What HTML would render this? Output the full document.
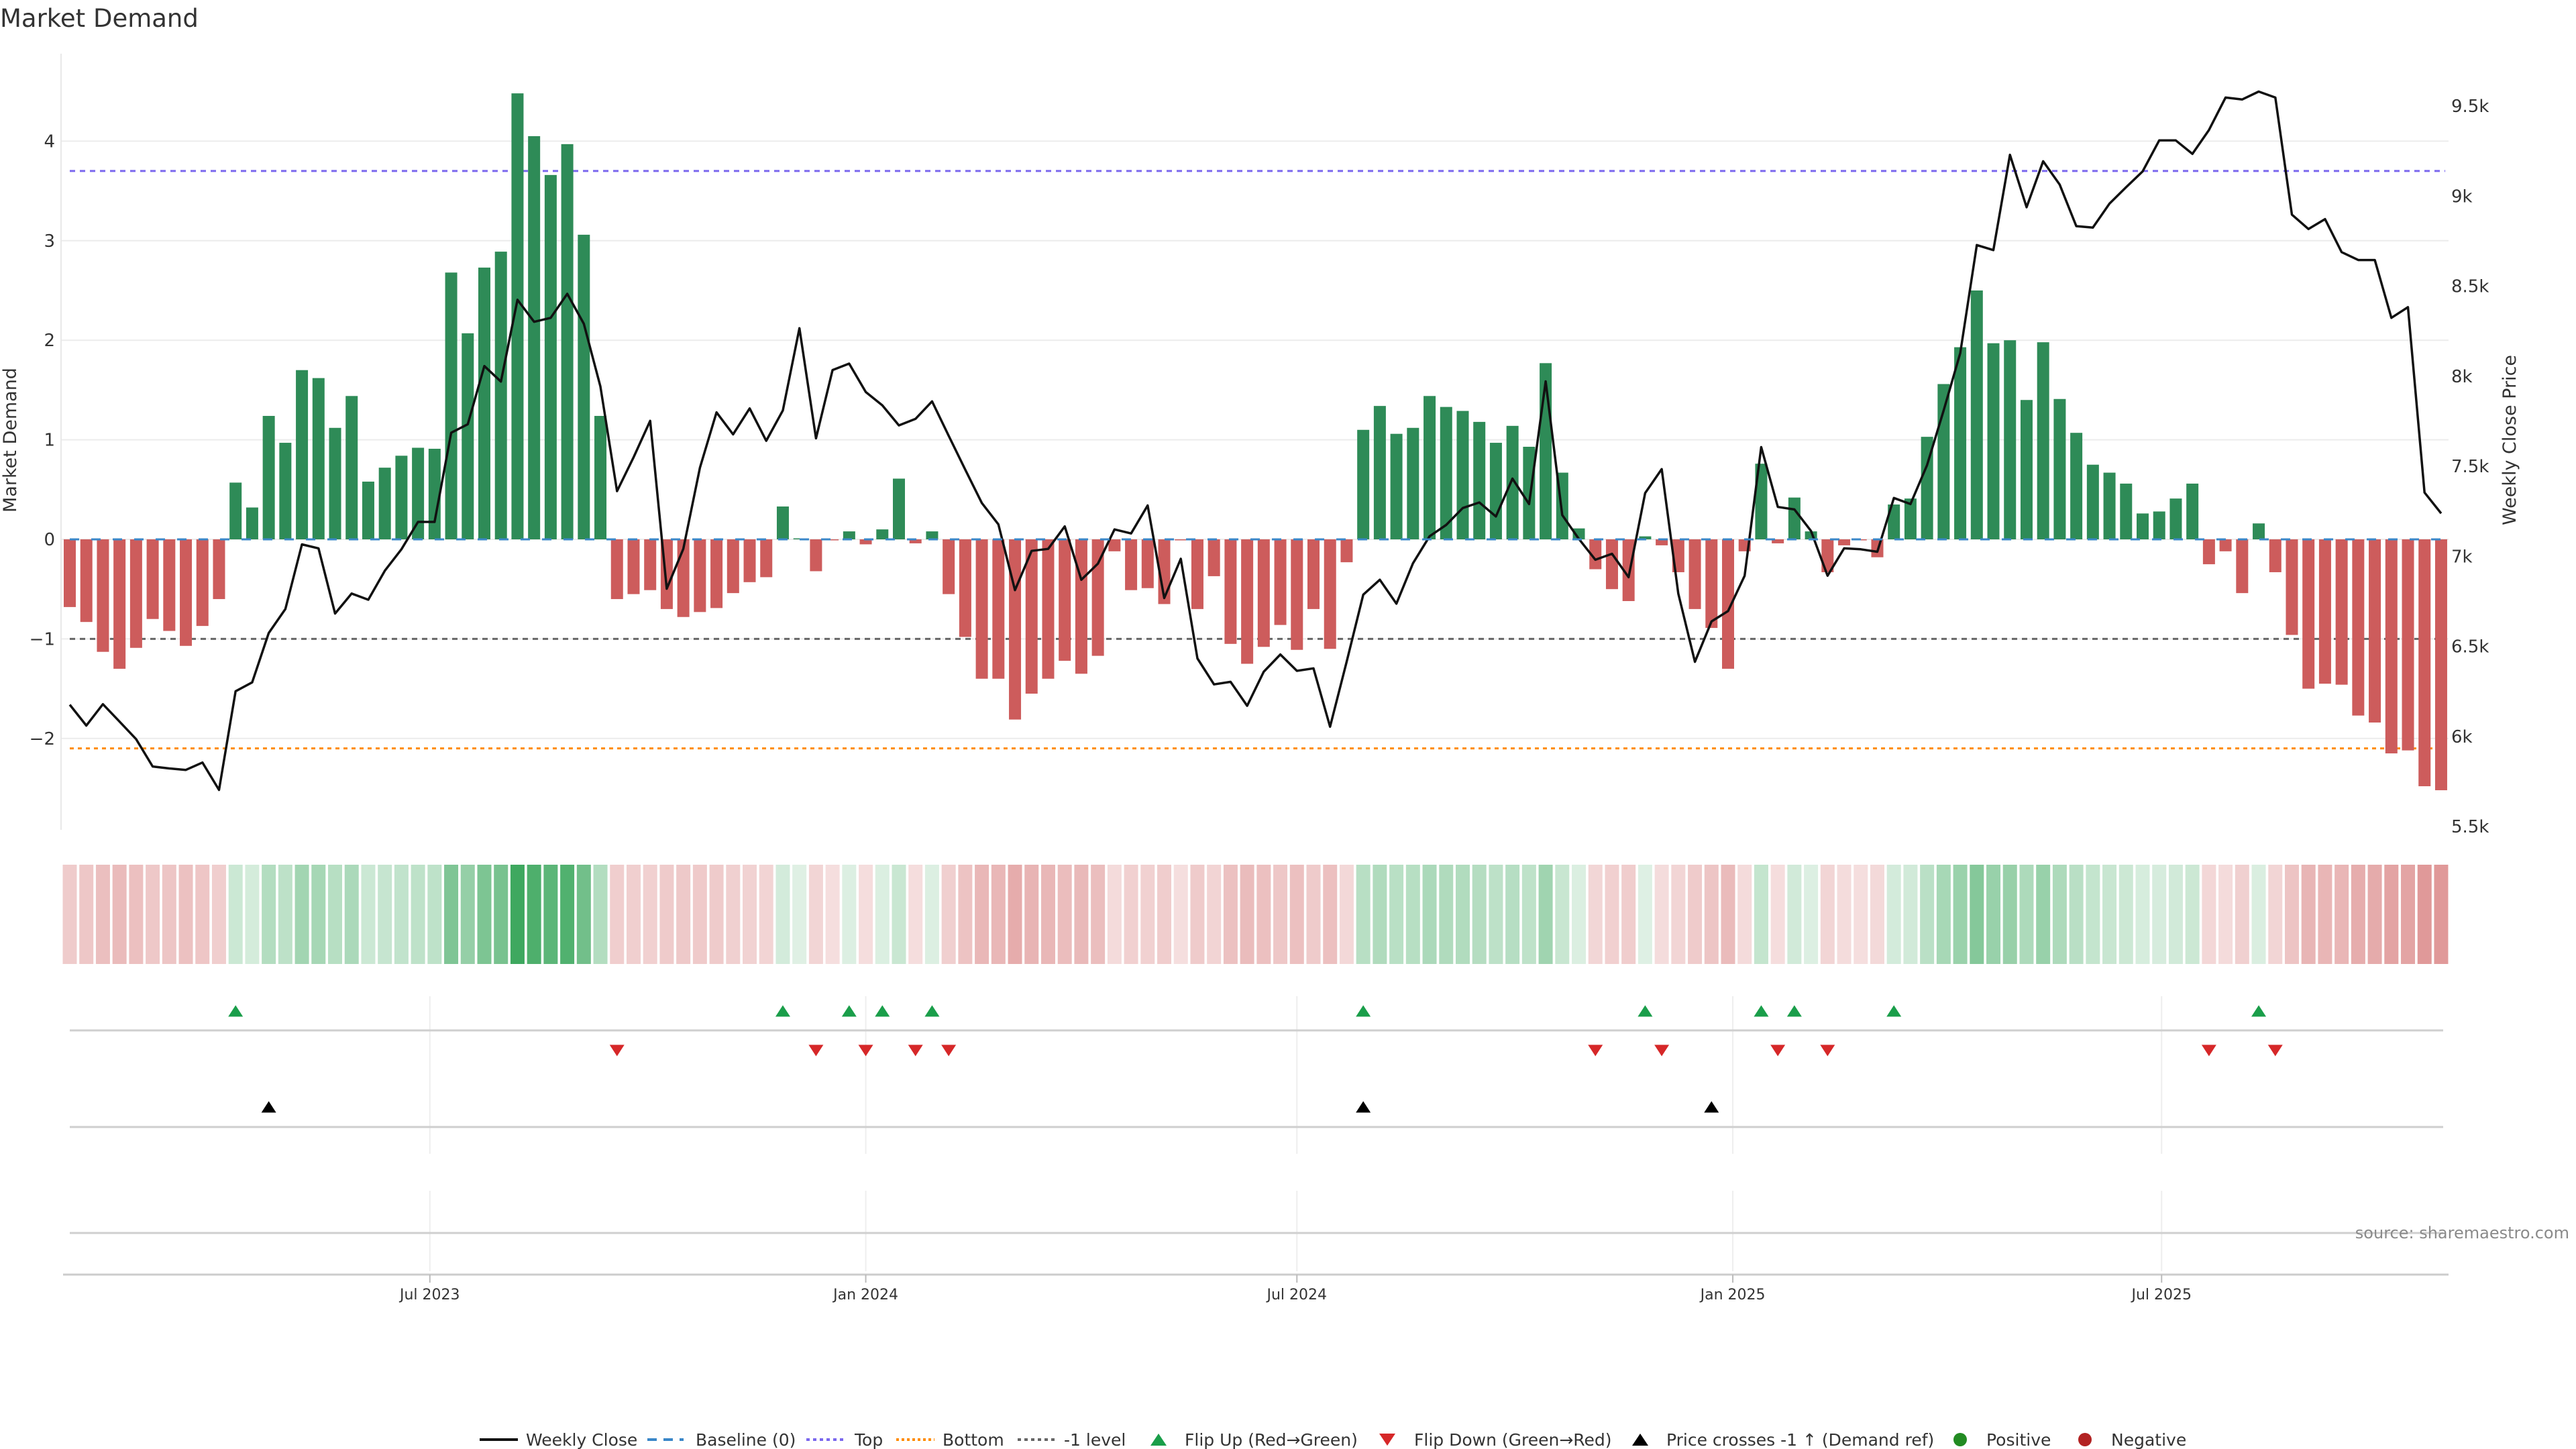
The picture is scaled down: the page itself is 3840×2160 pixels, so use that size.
<!DOCTYPE html>
<html><head><meta charset="utf-8"><style>
html,body{margin:0;padding:0;background:#fff;}
svg{display:block;font-family:"DejaVu Sans","Liberation Sans",sans-serif;}
</style></head><body>
<svg id="chart" width="3840" height="2160" viewBox="0 0 3840 2160" xmlns="http://www.w3.org/2000/svg">
<text x="0" y="40" font-size="37" fill="#333">Market Demand</text>
<g id="grid"></g>
<g id="refs"></g>
<g id="bars"></g>
<g id="price"></g>
<g id="heat"></g>
<g id="markers"></g>
<g id="axes"></g>
<text transform="translate(24,656) rotate(-90)" text-anchor="middle" font-size="27" fill="#333">Market Demand</text>
<text transform="translate(3750,656) rotate(-90)" text-anchor="middle" font-size="27" fill="#333">Weekly Close Price</text>
<text x="3830" y="1846" text-anchor="end" font-size="24" fill="#8a8a8a">source: sharemaestro.com</text>
<g id="legend"></g>
</svg>
<script>
const demand = [-0.68,-0.83,-1.13,-1.30,-1.09,-0.80,-0.92,-1.07,-0.87,-0.60,
0.57,0.32,1.24,0.97,1.70,1.62,1.12,1.44,0.58,0.72,0.84,0.92,0.91,2.68,2.07,2.73,2.89,4.48,4.05,3.66,3.97,3.06,1.24,
-0.60,-0.55,-0.51,
-0.70,-0.78,-0.73,-0.69,-0.54,-0.43,-0.38,0.33,0.01,-0.32,-0.01,0.08,-0.05,0.10,0.61,-0.04,0.08,-0.55,-0.98,-1.40,-1.40,-1.81,-1.55,-1.40,-1.22,-1.35,-1.17,-0.12,-0.51,-0.49,-0.65,-0.01,-0.70,-0.37,-1.05,-1.25,-1.08,
-0.86,-1.11,-0.70,-1.10,-0.23,1.10,1.34,1.06,1.12,1.44,1.33,1.29,1.18,0.97,1.14,0.93,1.77,0.67,0.11,-0.30,-0.50,-0.62,0.03,-0.06,-0.33,-0.70,-0.89,-1.30,-0.12,0.76,-0.04,0.42,0.08,-0.33,-0.06,-0.01,
-0.18,0.35,0.41,1.03,1.56,1.93,2.50,1.97,2.00,1.40,1.98,1.41,1.07,0.75,0.67,0.56,0.26,0.28,0.41,0.56,-0.25,-0.12,-0.54,0.16,-0.33,-0.96,-1.50,-1.45,-1.46,-1.77,-1.84,-2.15,-2.12,-2.48,-2.52];
const closePrice = [6176,6060,6179,6082,5985,5833,5822,5814,5855,5703,6251,6300,6574,6707,7066,7044,6682,6793,6759,6920,7039,7191,7191,7686,7733,8056,7970,8424,8302,8324,8457,8291,7943,7362,7550,7752,6820,
7041,7492,7799,7677,7821,7641,7810,8266,7655,8034,8070,7912,7838,7727,7763,7860,7669,7481,7296,7177,6812,7030,7041,7166,6870,6959,7149,7127,7282,6768,6986,6433,6289,6303,6170,6359,
6455,6364,6378,6054,6414,6787,6870,6737,6961,7111,7174,7268,7299,7221,7431,7290,7971,7229,7097,6981,7014,6884,7351,7484,6793,6414,6638,6696,6892,7606,7274,7260,7141,6892,7044,7039,7025,
7324,7290,7506,7810,8128,8728,8700,9229,8938,9193,9063,8833,8825,8958,9049,9137,9309,9309,9234,9367,9547,9536,9580,9547,8897,8817,8872,8689,8645,8645,8324,8383,7354,7238];
const crossIdx = [12,78,99];
const leftTicks = [-2,-1,0,1,2,3,4];
const rightTicks = [5500,6000,6500,7000,7500,8000,8500,9000,9500];
const rightTickLabels = ["5.5k","6k","6.5k","7k","7.5k","8k","8.5k","9k","9.5k"];
const xTickDates = ["2023-07-01","2024-01-01","2024-07-01","2025-01-01","2025-07-01"];
const xTickLabels = ["Jul 2023","Jan 2024","Jul 2024","Jan 2025","Jul 2025"];
const refTop = 3.70, refBottom = -2.10, refMinus1 = -1.0;

const NS="http://www.w3.org/2000/svg";
const d0 = Date.UTC(2023,0,30);
const STEP = 24.72;
function xi(i){return 104 + i*STEP;}
function xDate(s){const p=s.split('-');return 104 + (Date.UTC(+p[0],+p[1]-1,+p[2])-d0)/(7*86400000)*STEP;}
function yL(v){return 804 - 148.4*v;}
function yR(p){return 1232 - (p-5500)*0.2685;}
function mk(tag,attrs,parent){const e=document.createElementNS(NS,tag);for(const k in attrs)e.setAttribute(k,attrs[k]);parent.appendChild(e);return e;}
const G=id=>document.getElementById(id);

const grid=G('grid');
leftTicks.forEach(t=>{
  const l=mk('line',{x1:91,x2:3650,y1:yL(t),y2:yL(t),stroke:'#ececec','stroke-width':2},grid);
  
  
});
xTickDates.forEach(d=>{
  const x=xDate(d);
  [[1485,1720],[1775,1895]].forEach(r=>{
    const l=mk('line',{x1:x,x2:x,y1:r[0],y2:r[1],stroke:'#eeeeee','stroke-width':2},grid);
    
    
  });
});
mk('line',{x1:91,x2:91,y1:80,y2:1237,stroke:'#e8e8e8','stroke-width':2},grid);

const refs=G('refs');
function ref(v,col,dash,name){
  const l=mk('line',{x1:104,x2:3645,y1:yL(v),y2:yL(v),stroke:col,'stroke-width':3,'stroke-dasharray':dash},refs);
  
  
}
ref(refTop,'#7b68ee','8 7','top-line');
ref(refBottom,'#ff8c00','6 6','bottom-line');
ref(refMinus1,'#666','8 7','minus-one-level-line');

const bars=G('bars');
demand.forEach((v,i)=>{
  const y0=yL(0), y1=yL(v);
  const r=mk('rect',{x:xi(i)-9,y:Math.min(y0,y1),width:18,height:Math.max(Math.abs(y1-y0),0.5),fill:v>0?'#2e8b57':'#cd5c5c'},bars);
  
  
});
const bl=mk('line',{x1:104,x2:3645,y1:yL(0),y2:yL(0),stroke:'#3a87c8','stroke-width':3,'stroke-dasharray':'14 18'},refs);


bars.parentNode.appendChild(refs.lastChild);

const pts=closePrice.map((p,i)=>xi(i).toFixed(1)+','+yR(p).toFixed(1)).join(' ');
const pl=mk('polyline',{points:pts,fill:'none',stroke:'#111','stroke-width':3.5,'stroke-linejoin':'round'},G('price'));



const heat=G('heat');
demand.forEach((v,i)=>{
  const a=v>0?Math.min(0.15+0.17*v,0.95):Math.min(0.2+0.17*Math.abs(v),0.75);
  const c=v>0?'rgba(44,160,80,'+a.toFixed(3)+')':'rgba(205,92,92,'+a.toFixed(3)+')';
  const r=mk('rect',{x:xi(i)-10.5,y:1289,width:21,height:148,fill:c},heat);
  
  
});

const mkG=G('markers');
[1536,1680,1838].forEach(y=>{
  const l=mk('line',{x1:104,x2:3642,y1:y,y2:y,stroke:'#cfcfcf','stroke-width':3},mkG);
  
  
});
function tri(x,y,up,col,name){
  const h=17,w=11;
  const p=up?`${x-w},${y+h/2} ${x+w},${y+h/2} ${x},${y-h/2}`:`${x-w},${y-h/2} ${x+w},${y-h/2} ${x},${y+h/2}`;
  const t=mk('polygon',{points:p,fill:col},mkG);
  
  
}
for(let i=1;i<demand.length;i++){
  if(demand[i]>0&&demand[i-1]<=0) tri(xi(i),1507,true,'#1a9e4a','flip-up-marker');
  if(demand[i]<=0&&demand[i-1]>0) tri(xi(i),1566,false,'#d62728','flip-down-marker');
}
crossIdx.forEach(i=>tri(xi(i),1650,true,'#000','price-cross-marker'));

const ax=G('axes');
mk('line',{x1:94,x2:3650,y1:1900,y2:1900,stroke:'#cccccc','stroke-width':3},ax);
leftTicks.forEach(t=>{
  const tx=mk('text',{x:82,y:yL(t)+9,'text-anchor':'end','font-size':26,fill:'#333'},ax);
  tx.textContent=t<0?'\u2212'+Math.abs(t):String(t);
  
  
});
rightTicks.forEach((p,k)=>{
  const tx=mk('text',{x:3654,y:yR(p)+9,'font-size':26,fill:'#333'},ax);
  tx.textContent=rightTickLabels[k];
  
  
});
xTickDates.forEach((d,k)=>{
  const x=xDate(d);
  mk('line',{x1:x,x2:x,y1:1900,y2:1912,stroke:'#bbb','stroke-width':2},ax);
  const tx=mk('text',{x:x,y:1937,'text-anchor':'middle','font-size':22,fill:'#333'},ax);
  tx.textContent=xTickLabels[k];
  
  
});

const lg=G('legend');
const ly=2146;
function ltext(x,s){const t=mk('text',{x:x,y:ly+9,'font-size':25,fill:'#333'},lg);t.textContent=s;}
mk('line',{x1:715,x2:772,y1:ly,y2:ly,stroke:'#111','stroke-width':4},lg); ltext(784,'Weekly Close');
mk('line',{x1:965,x2:1019,y1:ly,y2:ly,stroke:'#3a87c8','stroke-width':4,'stroke-dasharray':'14 10'},lg); ltext(1037,'Baseline (0)');
mk('line',{x1:1202,x2:1259,y1:ly,y2:ly,stroke:'#7b68ee','stroke-width':4,'stroke-dasharray':'5 5'},lg); ltext(1274,'Top');
mk('line',{x1:1336,x2:1393,y1:ly,y2:ly,stroke:'#ff8c00','stroke-width':4,'stroke-dasharray':'4 4'},lg); ltext(1405,'Bottom');
mk('line',{x1:1517,x2:1573,y1:ly,y2:ly,stroke:'#666','stroke-width':4,'stroke-dasharray':'5 5'},lg); ltext(1586,'-1 level');
function ltri(x,up,col){const h=18,w=12;const p=up?`${x-w},${ly+h/2} ${x+w},${ly+h/2} ${x},${ly-h/2}`:`${x-w},${ly-h/2} ${x+w},${ly-h/2} ${x},${ly+h/2}`;mk('polygon',{points:p,fill:col},lg);}
ltri(1727,true,'#1a9e4a'); ltext(1766,'Flip Up (Red\u2192Green)');
ltri(2068,false,'#d62728'); ltext(2108,'Flip Down (Green\u2192Red)');
ltri(2445,true,'#000'); ltext(2484,'Price crosses -1 \u2191 (Demand ref)');
mk('circle',{cx:2922,cy:ly,r:10,fill:'#228b22'},lg); ltext(2961,'Positive');
mk('circle',{cx:3108,cy:ly,r:10,fill:'#b22222'},lg); ltext(3147,'Negative');
</script>
</body></html>
